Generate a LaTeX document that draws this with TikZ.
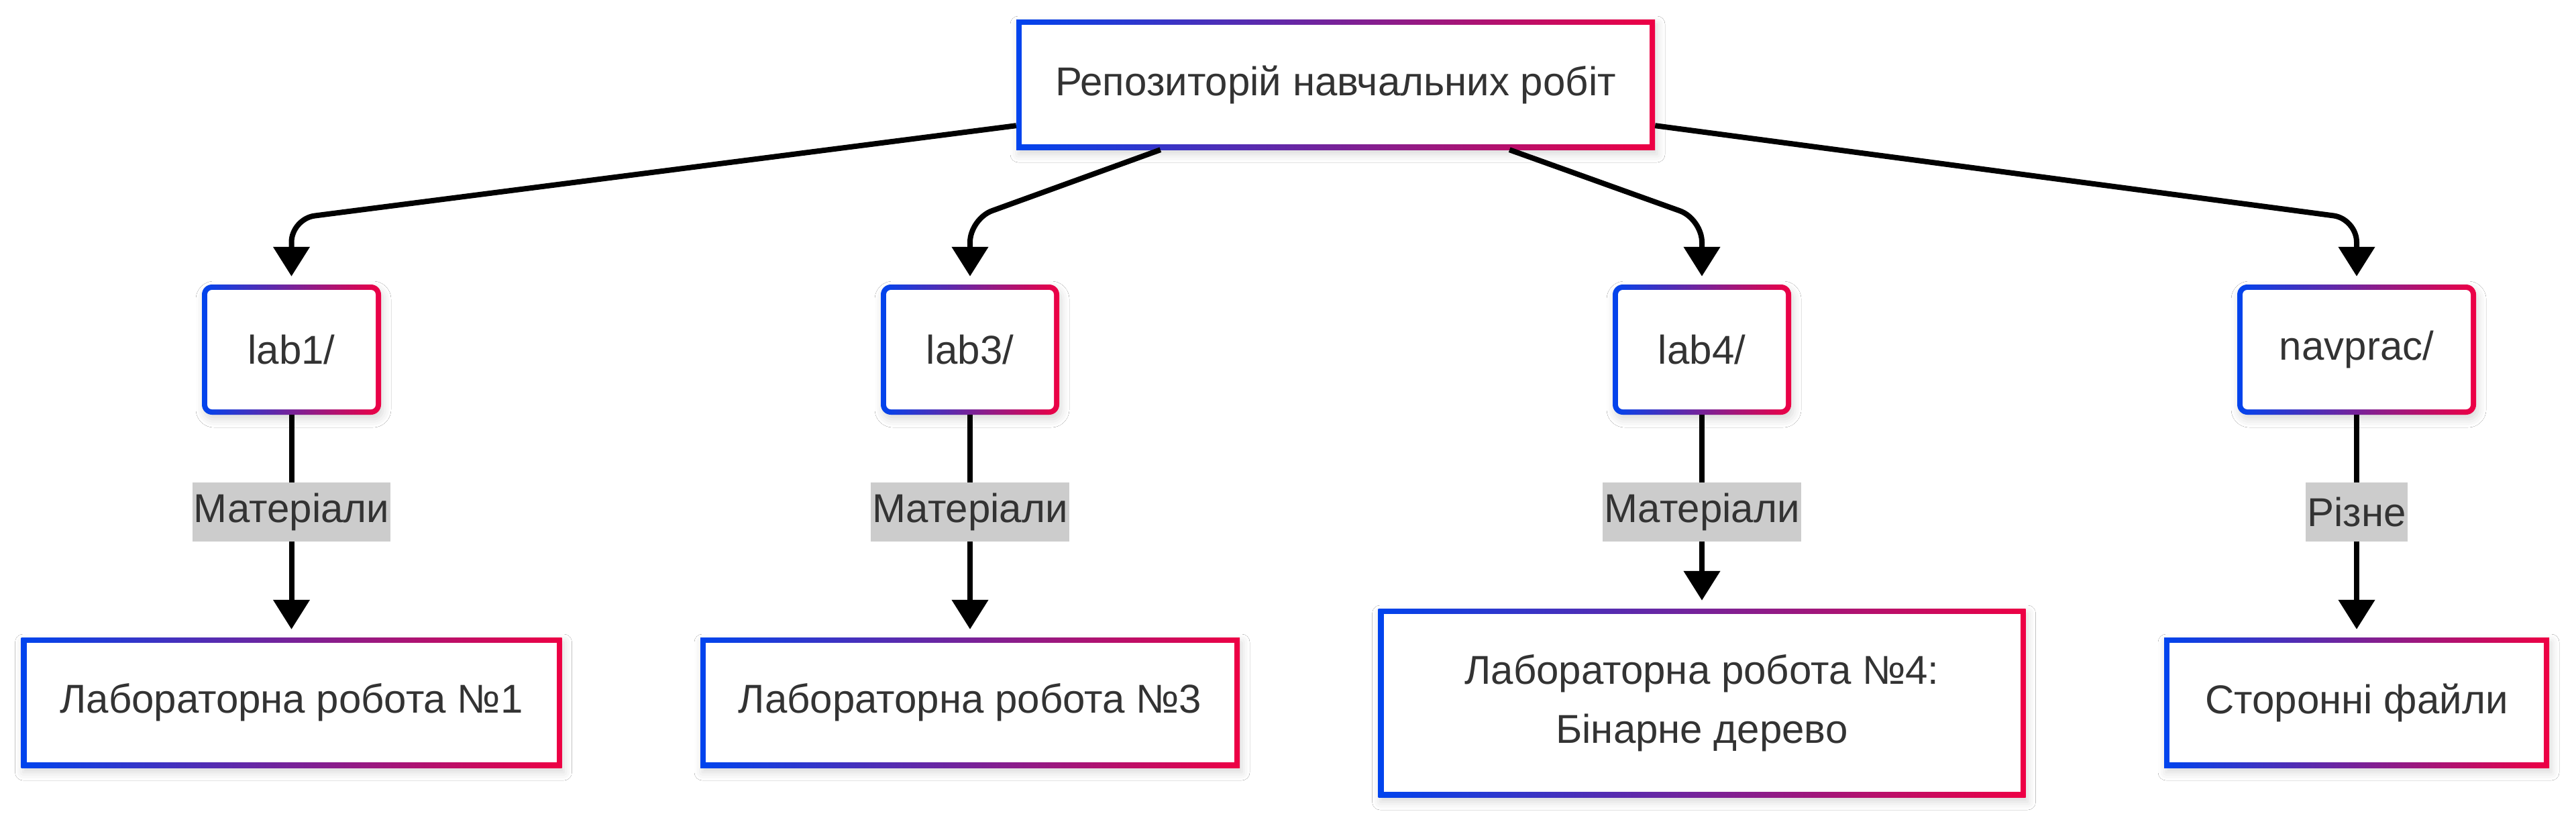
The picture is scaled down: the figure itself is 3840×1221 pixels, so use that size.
\documentclass[tikz,border=0pt]{standalone}
\usepackage{fontspec}
\setmainfont{Liberation Sans}
\usetikzlibrary{arrows.meta,calc,shadows.blur}
\definecolor{bl}{RGB}{0,68,238}
\definecolor{rd}{RGB}{238,0,68}
\definecolor{txt}{RGB}{51,51,51}
\definecolor{lblgray}{RGB}{204,204,204}
\begin{document}
\begin{tikzpicture}[x=1pt,y=-1pt,
  basebox/.style={rectangle, left color=bl, right color=rd, inner sep=0pt, text=txt,
    font=\fontsize{60}{88}\selectfont, align=center,
    blur shadow={shadow xshift=3pt, shadow yshift=-7pt, shadow blur radius=12pt, shadow opacity=15}},
  sqbox/.style={basebox,
    path picture={\fill[white] ([shift={(8pt,8pt)}]path picture bounding box.south west) rectangle ([shift={(-8pt,-8pt)}]path picture bounding box.north east);}},
  rndbox/.style={basebox, rounded corners=15pt,
    path picture={\fill[white, rounded corners=7pt] ([shift={(8pt,8pt)}]path picture bounding box.south west) rectangle ([shift={(-8pt,-8pt)}]path picture bounding box.north east);}},
  edge/.style={draw=black, line width=8pt, -{Triangle[width=53pt,length=44pt]}, shorten >=12pt, rounded corners=35pt},
  lbl/.style={sharp corners, fill=lblgray, text=txt, font=\fontsize{60}{72}\selectfont, inner xsep=2pt, inner ysep=0pt, minimum height=88pt}
]
\useasboundingbox (0,0) rectangle (3840,1221);
\fill[white] (0,0) rectangle (3840,1221);

\node[sqbox, minimum width=952pt, minimum height=194pt] (top) at (1991,126) {Репозиторій навчальних робіт};

\node[rndbox, minimum width=267pt, minimum height=194pt] (lab1) at (434.5,521) {lab1/};
\node[rndbox, minimum width=266pt, minimum height=194pt] (lab3) at (1446,521) {lab3/};
\node[rndbox, minimum width=266pt, minimum height=194pt] (lab4) at (2537,521) {lab4/};
\node[rndbox, minimum width=356pt, minimum height=194pt] (nav) at (3513,521) {navprac/};

\node[sqbox, minimum width=806pt, minimum height=194pt] (b1) at (434.5,1047) {Лабораторна робота №1};
\node[sqbox, minimum width=804pt, minimum height=194pt] (b3) at (1446,1047) {Лабораторна робота №3};
\node[sqbox, minimum width=965pt, minimum height=281pt] (b4) at (2537,1047.5) {Лабораторна робота №4:\\Бінарне дерево};
\node[sqbox, minimum width=574pt, minimum height=194pt] (b5) at (3513,1047) {Сторонні файли};

\coordinate (lev) at (0,326);

\draw[edge] ([yshift=36pt]top.south west) -- (lab1.north |- lev) -- (lab1.north);
\draw[edge] ([xshift=215pt]top.south west) -- (lab3.north |- lev) -- (lab3.north);
\draw[edge] ([xshift=-217pt]top.south east) -- (lab4.north |- lev) -- (lab4.north);
\draw[edge] ([yshift=36pt]top.south east) -- (nav.north |- lev) -- (nav.north);

\draw[edge] (lab1.south) -- node[lbl, pos=0.4367] (l1) {Матеріали} (b1.north);
\draw[edge] (lab3.south) -- node[lbl, pos=0.4367] (l3) {Матеріали} (b3.north);
\draw[edge] (lab4.south) -- node[lbl, pos=0.5017] (l4) {Матеріали} (b4.north);
\draw[edge] (nav.south) -- node[lbl, pos=0.4367] (l5) {Різне} (b5.north);
\end{tikzpicture}
\end{document}
